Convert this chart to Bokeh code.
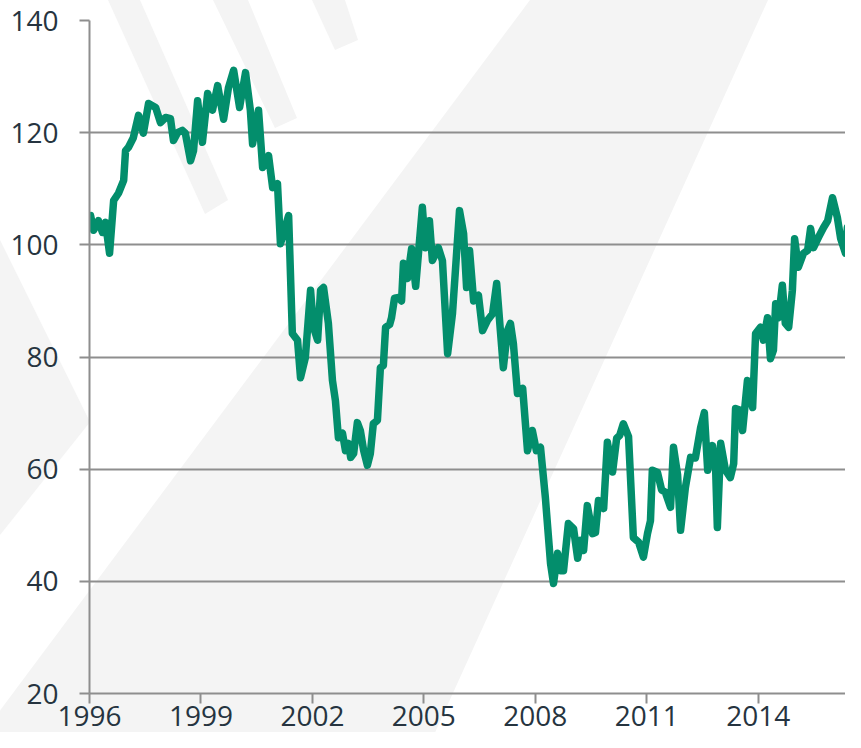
from urllib.parse import quote

from bokeh.plotting import figure
from bokeh.models import Range1d, FixedTicker
from bokeh.embed import file_html
from bokeh.resources import INLINE

# ---- data ----
years = [
    1996.03, 1996.11, 1996.24, 1996.35, 1996.43, 1996.54, 1996.65, 1996.78, 1996.92, 1996.97,
    1997.05, 1997.18, 1997.32, 1997.45, 1997.59, 1997.78, 1997.91, 1998.05, 1998.18, 1998.26,
    1998.37, 1998.50, 1998.58, 1998.72, 1998.80, 1998.91, 1999.04, 1999.18, 1999.31, 1999.45,
    1999.61, 1999.74, 1999.88, 2000.04, 2000.20, 2000.33, 2000.39, 2000.55, 2000.66, 2000.82,
    2000.93, 2001.06, 2001.14, 2001.36, 2001.46, 2001.60, 2001.68, 2001.81, 2001.95, 2002.03,
    2002.14, 2002.22, 2002.30, 2002.43, 2002.54, 2002.62, 2002.70, 2002.81, 2002.89, 2002.97,
    2003.03, 2003.11, 2003.21, 2003.29, 2003.38, 2003.48, 2003.56, 2003.64, 2003.75, 2003.83,
    2003.91, 2003.97, 2004.08, 2004.13, 2004.21, 2004.32, 2004.40, 2004.45, 2004.56, 2004.67,
    2004.78, 2004.96, 2005.04, 2005.15, 2005.23, 2005.39, 2005.50, 2005.64, 2005.77, 2005.96,
    2006.07, 2006.15, 2006.23, 2006.34, 2006.47, 2006.58, 2006.71, 2006.85, 2006.96, 2007.06,
    2007.14, 2007.25, 2007.33, 2007.41, 2007.52, 2007.66, 2007.79, 2007.92, 2008.03, 2008.14,
    2008.27, 2008.41, 2008.49, 2008.60, 2008.68, 2008.76, 2008.89, 2009.03, 2009.14, 2009.22,
    2009.30, 2009.40, 2009.54, 2009.62, 2009.70, 2009.84, 2009.94, 2010.08, 2010.19, 2010.27,
    2010.37, 2010.51, 2010.64, 2010.78, 2010.91, 2011.02, 2011.10, 2011.15, 2011.29, 2011.40,
    2011.50, 2011.64, 2011.72, 2011.83, 2011.91, 2012.04, 2012.18, 2012.31, 2012.45, 2012.55,
    2012.64, 2012.77, 2012.85, 2012.90, 2012.99, 2013.12, 2013.25, 2013.34, 2013.39, 2013.52,
    2013.58, 2013.71, 2013.85, 2013.93, 2014.06, 2014.14, 2014.25, 2014.33, 2014.41, 2014.47,
    2014.55, 2014.65, 2014.73, 2014.82, 2014.92, 2014.98, 2015.08, 2015.22, 2015.33, 2015.41,
    2015.49, 2015.62, 2015.76, 2015.87, 2016.00, 2016.13, 2016.22, 2016.35, 2016.40, 2016.48,
    2016.62, 2016.70, 2016.78,
]
values = [
    105.2, 102.6, 104.3, 102.2, 104.0, 98.5, 107.9, 109.2, 111.5, 116.8,
    117.4, 119.1, 123.1, 119.9, 125.2, 124.5, 121.8, 122.7, 122.5, 118.6,
    120.0, 120.4, 119.9, 115.0, 116.8, 125.7, 118.3, 127.0, 124.0, 128.4,
    122.4, 128.0, 131.1, 124.5, 130.7, 124.0, 118.0, 124.0, 113.8, 115.9,
    110.2, 110.9, 100.2, 105.2, 84.2, 83.0, 76.3, 79.9, 91.9, 85.3,
    83.0, 91.9, 92.4, 86.0, 75.8, 72.2, 65.6, 66.4, 63.3, 64.6,
    62.1, 62.8, 68.3, 66.9, 63.3, 60.7, 62.8, 68.1, 68.7, 78.1,
    78.5, 85.3, 85.8, 87.0, 90.5, 90.6, 90.0, 96.7, 94.0, 99.3,
    92.6, 106.7, 99.5, 104.3, 97.2, 99.5, 97.2, 80.6, 87.7, 106.1,
    102.0, 92.4, 99.0, 90.0, 91.0, 84.7, 86.5, 87.7, 93.1, 84.7,
    78.1, 84.7, 86.0, 82.4, 73.5, 74.4, 63.3, 66.9, 63.3, 63.9,
    55.0, 43.2, 39.6, 45.0, 41.9, 41.9, 50.3, 49.4, 44.1, 47.3,
    45.5, 53.5, 48.5, 48.7, 54.4, 53.0, 64.8, 59.5, 65.5, 66.0,
    68.1, 65.8, 47.8, 47.0, 44.3, 48.5, 50.8, 59.8, 59.4, 56.3,
    55.9, 53.2, 63.9, 59.0, 49.1, 56.7, 62.1, 62.0, 67.4, 70.1,
    59.8, 64.2, 61.0, 49.6, 64.6, 59.8, 58.5, 61.0, 70.8, 70.5,
    66.9, 75.8, 71.0, 84.2, 85.3, 83.0, 87.0, 79.7, 81.2, 89.5,
    87.0, 92.8, 86.0, 85.3, 91.9, 101.1, 96.0, 98.5, 99.0, 102.9,
    99.5, 101.3, 103.1, 104.3, 108.4, 104.9, 101.1, 98.5, 103.1, 99.5,
    102.6, 97.2, 100.0,
]
x_ticks = [1996, 1999, 2002, 2005, 2008, 2011, 2014]
y_ticks = [20, 40, 60, 80, 100, 120, 140]

# ---- styles ----
W, H = 845, 732
LINE_GREEN = "#038e6c"
GRID_GREY = "#8e8e8e"
TEXT_COL = "#263440"
FONT = "Open Sans"

# decorative light-grey watermark behind the chart (pixel coords of the plot box)
wm_shapes = [
    [(530, 0), (768, 0), (428, 748), (-28, 748)],
    [(0, 240), (90, 422), (0, 535)],
    [(108, 0), (140, 0), (228, 200), (205, 214)],
    [(213, 0), (248, 0), (297, 118), (275, 128)],
    [(312, 0), (345, 0), (358, 40), (335, 50)],
]
polys = "".join(
    '<polygon fill="#f4f4f4" points="%s"/>' % " ".join("%d,%d" % (x, y) for x, y in s)
    for s in wm_shapes
)
svg = '<svg xmlns="http://www.w3.org/2000/svg" width="%d" height="%d">%s</svg>' % (W, H, polys)
bg = 'url("data:image/svg+xml,%s")' % quote(svg)

FRAME_W = W - 89
p = figure(
    width=W, height=H,
    output_backend="svg", toolbar_location=None,
    x_range=Range1d(1996, 1996 + FRAME_W / 37.15), y_range=Range1d(20, 140),
    min_border_left=89, min_border_right=0, min_border_top=20, min_border_bottom=39,
    border_fill_color=None, background_fill_color=None, outline_line_color=None,
)
p.styles = {"background-image": bg, "background-repeat": "no-repeat"}

p.xgrid.visible = False
p.ygrid.ticker = FixedTicker(ticks=y_ticks)
p.ygrid.grid_line_color = GRID_GREY
p.ygrid.grid_line_width = 2

p.xaxis.ticker = FixedTicker(ticks=x_ticks)
p.yaxis.ticker = FixedTicker(ticks=y_ticks)
for ax in (p.xaxis, p.yaxis):
    ax.axis_line_color = GRID_GREY
    ax.axis_line_width = 2
    ax.major_tick_line_color = GRID_GREY
    ax.major_tick_line_width = 2
    ax.major_tick_out = 10
    ax.major_tick_in = 0
    ax.minor_tick_line_color = None
    ax.major_label_text_font = FONT
    ax.major_label_text_font_size = "28px"
    ax.major_label_text_color = TEXT_COL
p.yaxis.major_label_standoff = 21
p.xaxis.major_label_standoff = 2

p.line(years, values, line_color=LINE_GREEN, line_width=7.5,
       line_join="round", line_cap="round")

open("out.html", "w").write(file_html(p, INLINE))
